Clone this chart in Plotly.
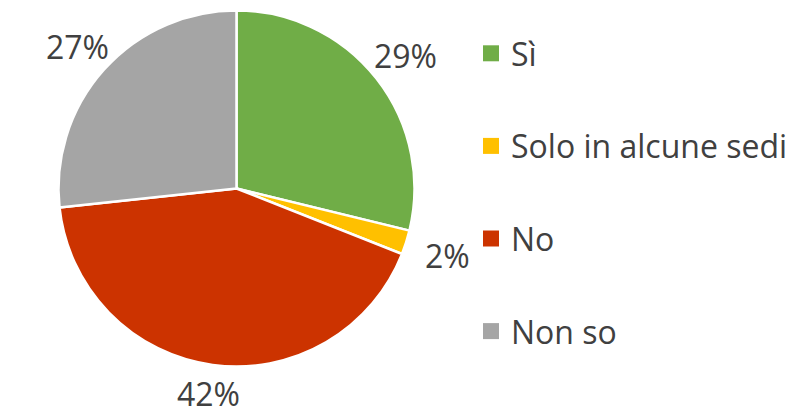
import math
import plotly.graph_objects as go

categories = ["Sì", "Solo in alcune sedi", "No", "Non so"]
values = [28.8, 2.2, 42.3, 26.7]
colors = ["#70AD47", "#FFC000", "#CC3300", "#A5A5A5"]

W, H = 796, 416
CX, CY, R = 236.5, 188.5, 178
GAP = 16
FONT = "Open Sans, DejaVu Sans, sans-serif"
TXT = "#404040"
FS = 32

fig = go.Figure()
fig.add_trace(go.Pie(
    labels=categories, values=values, sort=False, direction="clockwise",
    rotation=0, marker=dict(colors=colors, line=dict(color="white", width=2.5)),
    textinfo="none", hoverinfo="label+percent", showlegend=False,
    domain=dict(x=[(CX - R) / W, (CX + R) / W], y=[1 - (CY + R) / H, 1 - (CY - R) / H]),
))

# legend via dummy traces for square markers & spacing
for i, (c, col) in enumerate(zip(categories, colors)):
    fig.add_trace(go.Scatter(x=[None], y=[None], mode="markers", name=c,
                             legendgroup=f"g{i}",
                             marker=dict(symbol="square", size=16, color=col)))

# outside-end percentage labels, positioned from the slice mid-angles
total = sum(values)
cum = 0
for v in values:
    mid = (cum + v / 2) / total * 2 * math.pi
    cum += v
    txt = f"{round(v / total * 100)}%"
    dx, dy = math.sin(mid), -math.cos(mid)
    a = 0.62 * FS * len(txt) / 2 + 6
    b = FS * 0.4
    t = min(a / max(abs(dx), 1e-6), b / max(abs(dy), 1e-6))
    dist = R + GAP + t
    px = CX + dist * dx
    py = CY + dist * dy
    fig.add_annotation(x=px / W, y=1 - py / H, xref="paper", yref="paper",
                       text=txt, showarrow=False,
                       xanchor="center", yanchor="middle",
                       font=dict(size=FS, color=TXT, family=FONT))

fig.update_layout(
    width=W, height=H, margin=dict(l=0, r=0, t=0, b=0),
    paper_bgcolor="white", plot_bgcolor="white",
    xaxis=dict(visible=False), yaxis=dict(visible=False),
    legend=dict(x=471 / W, y=1 - 26 / H, xanchor="left", yanchor="top",
                font=dict(size=FS, color=TXT, family=FONT),
                tracegroupgap=48, itemsizing="trace", bgcolor="rgba(0,0,0,0)"),
    showlegend=True,
)
fig.write_html("out.html", config={"displayModeBar": False},
               post_script="document.body.style.margin='0';")
